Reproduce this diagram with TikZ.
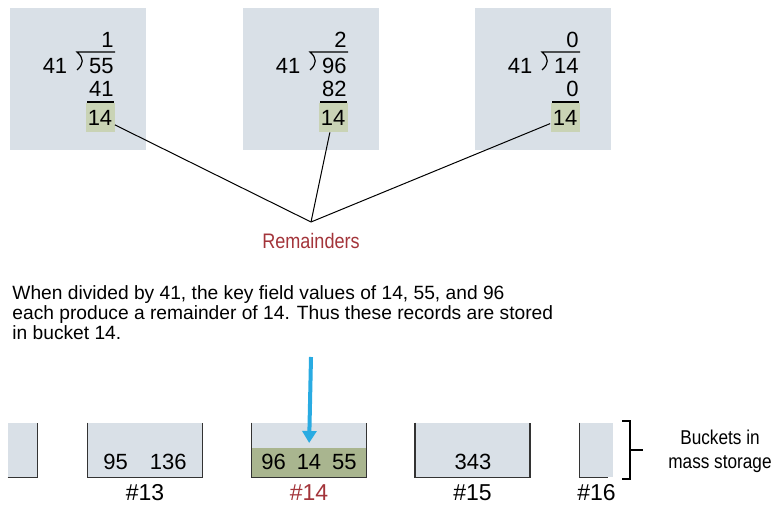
\documentclass[tikz,border=0pt]{standalone}
\usepackage{fontspec}
\setmainfont{Liberation Sans}
\newfontfamily\narrowfont{Liberation Sans}[FakeStretch=0.86]
\usetikzlibrary{positioning,arrows.meta}
\definecolor{boxgray}{HTML}{D9E0E7}
\definecolor{remgreen}{HTML}{C9D3B5}
\definecolor{fullgreen}{HTML}{A9B58F}
\definecolor{remred}{HTML}{A3343A}
\definecolor{dropblue}{HTML}{29ABE2}
\definecolor{wallgray}{HTML}{333333}

\begin{document}
\begin{tikzpicture}[x=0.5pt,y=-0.5pt,
  digit/.style={font=\fontsize{11}{13}\selectfont,inner sep=0pt},
  remnode/.style={digit,fill=remgreen,minimum width=14.5pt,minimum height=14.5pt},
  bucket/.style={fill=boxgray,minimum height=27pt,inner sep=0pt},
  wall/.style={draw=wallgray,line width=0.8pt},
  numlabel/.style={font=\fontsize{11.5}{13}\selectfont,inner sep=0pt,below=3.5pt of #1}]
\useasboundingbox (0,0) rectangle (780,506);

% the three divisions by 41
\foreach \bx/\q/\dvd/\sub [count=\i] in {10/1/55/41,243/2/96/82,475/0/14/0}{
  \fill[boxgray] (\bx,8) rectangle ++(136,142);
  \node[digit,anchor=base] (dv\i) at (\bx+45,74) {41};
  \node[digit,anchor=base east] (q\i) at (\bx+104,48) {\q};
  \node[digit,anchor=base east] (d\i) at (\bx+104,74) {\dvd};
  \node[digit,anchor=base east] (s\i) at (\bx+104,97) {\sub};
  \draw[line width=0.6pt] (\bx+105,52) -- (\bx+67,52)
    .. controls (\bx+74,58) and (\bx+74,64) .. (\bx+67,70);
  \draw[line width=0.6pt] (\bx+77,102) -- (\bx+104,102);
  \node[remnode] (r\i) at (\bx+90,117.5) {14};
}

% remainders
\coordinate (rem) at (311,222);
\foreach \i in {1,2,3}
  \draw[line width=0.5pt] (r\i) -- (rem);
\node[font=\narrowfont\fontsize{10.5}{12}\selectfont,text=remred,below=2pt of rem] (remtext) {Remainders};

\node[font=\fontsize{9.6}{10}\selectfont,align=left,anchor=north west,inner sep=0pt] (note) at (12,285)
  {When divided by 41, the key field values of 14, 55, and 96\\
   each produce a remainder of 14. Thus these records are stored\\
   in bucket 14.};

% buckets
\node[bucket,minimum width=14.5pt] (b12) at (22.5,450) {};
\node[bucket,minimum width=57pt] (b13) at (145,450) {};
\node[bucket,minimum width=57pt] (b14) at (309,450) {};
\node[bucket,minimum width=57pt] (b15) at (472.5,450) {};
\node[bucket,minimum width=16.5pt] (b16) at (596.5,450) {};
\fill[fullgreen] ([yshift=1pt]b14.west) rectangle (b14.south east);

\draw[wall] (b12.south west) -| (b12.north east);
\foreach \b in {b13,b14,b15}
  \draw[wall] (\b.north west) |- (\b.south east) -- (\b.north east);
\draw[wall] (b16.north west) |- ([xshift=-2.5pt]b16.south east);

\node[digit,anchor=base] (c13) at (145,470) {95\quad 136};
\node[digit,anchor=base] (c14) at (309,470) {96\enspace 14\enspace 55};
\node[digit,anchor=base] (c15) at (473,470) {343};

\node[numlabel=b13] (l13) {\#13};
\node[numlabel=b14,text=remred] (l14) {\#14};
\node[numlabel=b15] (l15) {\#15};
\node[numlabel=b16] (l16) {\#16};

\coordinate (drop) at (311,357);
\draw[dropblue,line width=2pt,-{Triangle[width=7pt,length=6pt]},shorten >=3.5pt] (drop) -- (b14.center);

% bracket for the buckets
\draw[line width=0.7pt] (622,421) -| (630,479) -- (622,479);
\draw[line width=0.7pt] (630,450) -- (643,450);
\node[font=\narrowfont\fontsize{10}{12}\selectfont,align=center] (store) at (720,451) {Buckets in\\mass storage};
\end{tikzpicture}
\end{document}
